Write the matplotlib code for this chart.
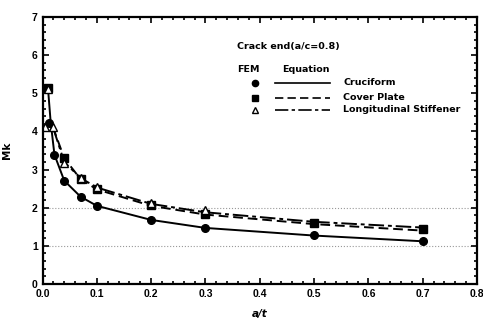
import numpy as np
import matplotlib
matplotlib.use('Agg')
import matplotlib.pyplot as plt
from matplotlib.ticker import MultipleLocator, FormatStrFormatter

plt.rcParams['font.family'] = ['DejaVu Sans']
plt.rcParams['font.weight'] = 'bold'

# FEM results (markers)
fem_cru_x = [0.012, 0.022, 0.04, 0.07, 0.1, 0.2, 0.3, 0.5, 0.7]
fem_cru_y = [4.22, 3.39, 2.71, 2.29, 2.05, 1.68, 1.47, 1.29, 1.13]
fem_cov_x = [0.01, 0.04, 0.07, 0.1, 0.2, 0.3, 0.5, 0.7]
fem_cov_y = [5.15, 3.30, 2.75, 2.48, 2.07, 1.84, 1.60, 1.43]
fem_stf_x = [0.005, 0.01, 0.019, 0.04, 0.07, 0.1, 0.2, 0.3]
fem_stf_y = [4.12, 5.12, 4.12, 3.18, 2.78, 2.53, 2.13, 1.94]

# Equation curves (lines)
eq_cru_x = [0.01, 0.015, 0.022, 0.04, 0.07, 0.1, 0.2, 0.3, 0.5, 0.7]
eq_cru_y = [5.15, 4.25, 3.39, 2.71, 2.29, 2.05, 1.68, 1.47, 1.27, 1.12]
eq_cov_x = [0.019, 0.04, 0.07, 0.1, 0.2, 0.3, 0.5, 0.7]
eq_cov_y = [4.12, 3.30, 2.75, 2.48, 2.05, 1.82, 1.57, 1.40]
eq_stf_x = [0.019, 0.04, 0.07, 0.1, 0.2, 0.3, 0.5, 0.7]
eq_stf_y = [4.12, 3.20, 2.78, 2.53, 2.10, 1.88, 1.63, 1.48]

labels = ['Cruciform', 'Cover Plate', 'Longitudinal Stiffener']

fig = plt.figure(figsize=(4.83, 3.25), dpi=100)
ax = fig.add_axes([42.5 / 483, 1 - 284 / 325, 434.5 / 483, 267 / 325])

for y in [1, 2]:
    ax.axhline(y, color='#999999', linestyle=':', linewidth=0.8, zorder=0)

ax.plot(eq_cru_x, eq_cru_y, color='black', linestyle='-', linewidth=1.4)
ax.plot(eq_cov_x, eq_cov_y, color='black', linestyle=(0, (5, 2.5)), linewidth=1.4)
ax.plot(eq_stf_x, eq_stf_y, color='black', linestyle=(0, (8, 2, 2, 2)), linewidth=1.4)

ax.plot(fem_cru_x, fem_cru_y, 'o', color='black', markersize=5.5, linestyle='none')
ax.plot(fem_cov_x, fem_cov_y, 's', color='black', markersize=5.5, linestyle='none')
ax.plot(fem_stf_x, fem_stf_y, '^', markerfacecolor='white', markeredgecolor='black',
        markersize=5.5, markeredgewidth=1.0, linestyle='none')

# legend drawn as text block (axes fraction coords)
tr = ax.transAxes
fs = 6.8
ax.text(0.448, 0.888, 'Crack end(a/c=0.8)', transform=tr, fontsize=fs, fontweight='bold', va='center')
ax.text(0.448, 0.805, 'FEM', transform=tr, fontsize=fs, fontweight='bold', va='center')
ax.text(0.551, 0.805, 'Equation', transform=tr, fontsize=fs, fontweight='bold', va='center')
rows = [0.753, 0.697, 0.652]
marks = [('o', 'black'), ('s', 'black'), ('^', 'white')]
styles = ['-', (0, (5, 2.5)), (0, (8, 2, 2, 2))]
for r, (m, fc), ls, lab in zip(rows, marks, styles, labels):
    ax.plot([0.489], [r], m, transform=tr, markerfacecolor=fc, markeredgecolor='black',
            markersize=4.5, clip_on=False)
    ax.plot([0.535, 0.662], [r, r], transform=tr, color='black', linestyle=ls, linewidth=1.2)
    ax.text(0.692, r, lab, transform=tr, fontsize=fs, fontweight='bold', va='center')

ax.set_xlim(0, 0.8)
ax.set_ylim(0, 7)
ax.xaxis.set_major_locator(MultipleLocator(0.1))
ax.xaxis.set_minor_locator(MultipleLocator(0.02))
ax.yaxis.set_major_locator(MultipleLocator(1))
ax.yaxis.set_minor_locator(MultipleLocator(0.2))
ax.xaxis.set_major_formatter(FormatStrFormatter('%.1f'))
ax.yaxis.set_major_formatter(FormatStrFormatter('%d'))
ax.tick_params(which='both', direction='in', top=True, right=True, width=1.2)
ax.tick_params(which='major', length=4, labelsize=7.5, labelfontfamily='Liberation Sans')
ax.tick_params(which='minor', length=2)
for s in ax.spines.values():
    s.set_linewidth(1.6)

ax.set_xlabel('a/t', fontsize=7.5, fontweight='bold', fontstyle='italic', labelpad=7)
ax.set_ylabel('Mk', fontsize=7.5, fontweight='bold', labelpad=14)

fig.savefig('out.png', dpi=100)
